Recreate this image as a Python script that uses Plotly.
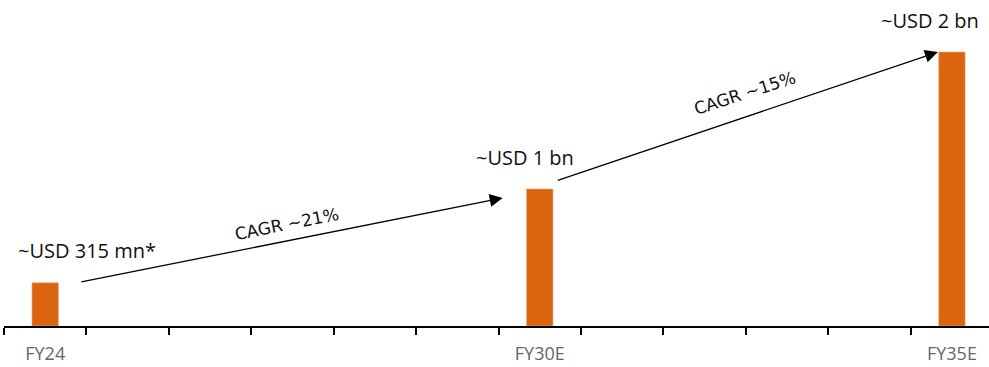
import plotly.graph_objects as go

# Fiscal years on the category axis
years = ["FY24", "FY25", "FY26", "FY27", "FY28", "FY29",
         "FY30E", "FY31E", "FY32E", "FY33E", "FY34E", "FY35E"]
# Market size in USD bn, only the three reported years have bars
market_idx = [0, 6, 11]
market_bn = [0.315, 1.0, 2.0]
market_labels = ["~USD 315 mn*", "~USD 1 bn", "~USD 2 bn"]
# Growth arrows between milestones
cagr_labels = ["CAGR ~21%", "CAGR ~15%"]

shown_ticks = {0: "FY24", 6: "FY30E", 11: "FY35E"}

BAR = "#DB6410"
FONT = "Open Sans"

fig = go.Figure()
fig.add_trace(go.Bar(
    x=market_idx, y=market_bn,
    width=0.32,
    marker=dict(color=BAR, line=dict(color="#F0A070", width=0.6)),
    hoverinfo="skip",
))

# value labels above bars
label_xshift = [42, -15, -22]
for i, v, t, dx in zip(market_idx, market_bn, market_labels, label_xshift):
    fig.add_annotation(x=i, y=v, text=t, showarrow=False, xanchor="center",
                       yanchor="middle", yshift=32, xshift=dx,
                       font=dict(family=FONT, size=20, color="#111111"))

# growth arrows (tail -> head) and rotated CAGR text
arrows = [
    dict(tail=(0.42, 0.32), head=(5.55, 0.935), angle=-11.3, pos=(2.93, 0.745)),
    dict(tail=(6.2, 1.06), head=(10.83, 2.0), angle=-18.0, pos=(8.49, 1.70)),
]
for a, t in zip(arrows, cagr_labels):
    fig.add_annotation(x=a["head"][0], y=a["head"][1], ax=a["tail"][0], ay=a["tail"][1],
                       xref="x", yref="y", axref="x", ayref="y", text="",
                       showarrow=True, arrowhead=2, arrowsize=2.0, arrowwidth=1.3,
                       arrowcolor="#000000", standoff=0, startstandoff=0)
    fig.add_annotation(x=a["pos"][0], y=a["pos"][1], text=t, showarrow=False,
                       textangle=a["angle"], xanchor="center", yanchor="middle",
                       font=dict(family="DejaVu Sans", size=17, color="#111111"))

fig.update_layout(
    width=989, height=367,
    margin=dict(l=4, r=0, t=0, b=41, autoexpand=False),
    paper_bgcolor="white", plot_bgcolor="white",
    showlegend=False,
    xaxis=dict(
        range=[-0.5, 11.45],
        automargin=False,
        tickmode="array",
        tickvals=list(range(len(years))),
        ticktext=[shown_ticks.get(i, "") for i in range(len(years))],
        ticks="",
        ticklabelstandoff=10,
        tickfont=dict(family=FONT, size=18, color="#666666"),
        showline=True, linecolor="#000000", linewidth=2,
        showgrid=False, zeroline=False,
        minor=dict(tickmode="array",
                   tickvals=[i - 0.5 for i in range(len(years))],
                   ticks="outside", ticklen=7, tickwidth=1.5, tickcolor="#000000",
                   showgrid=False),
        fixedrange=True,
    ),
    yaxis=dict(range=[0, 2.38], visible=False, fixedrange=True),
)

fig.write_html("out.html", config={"displayModeBar": False})
